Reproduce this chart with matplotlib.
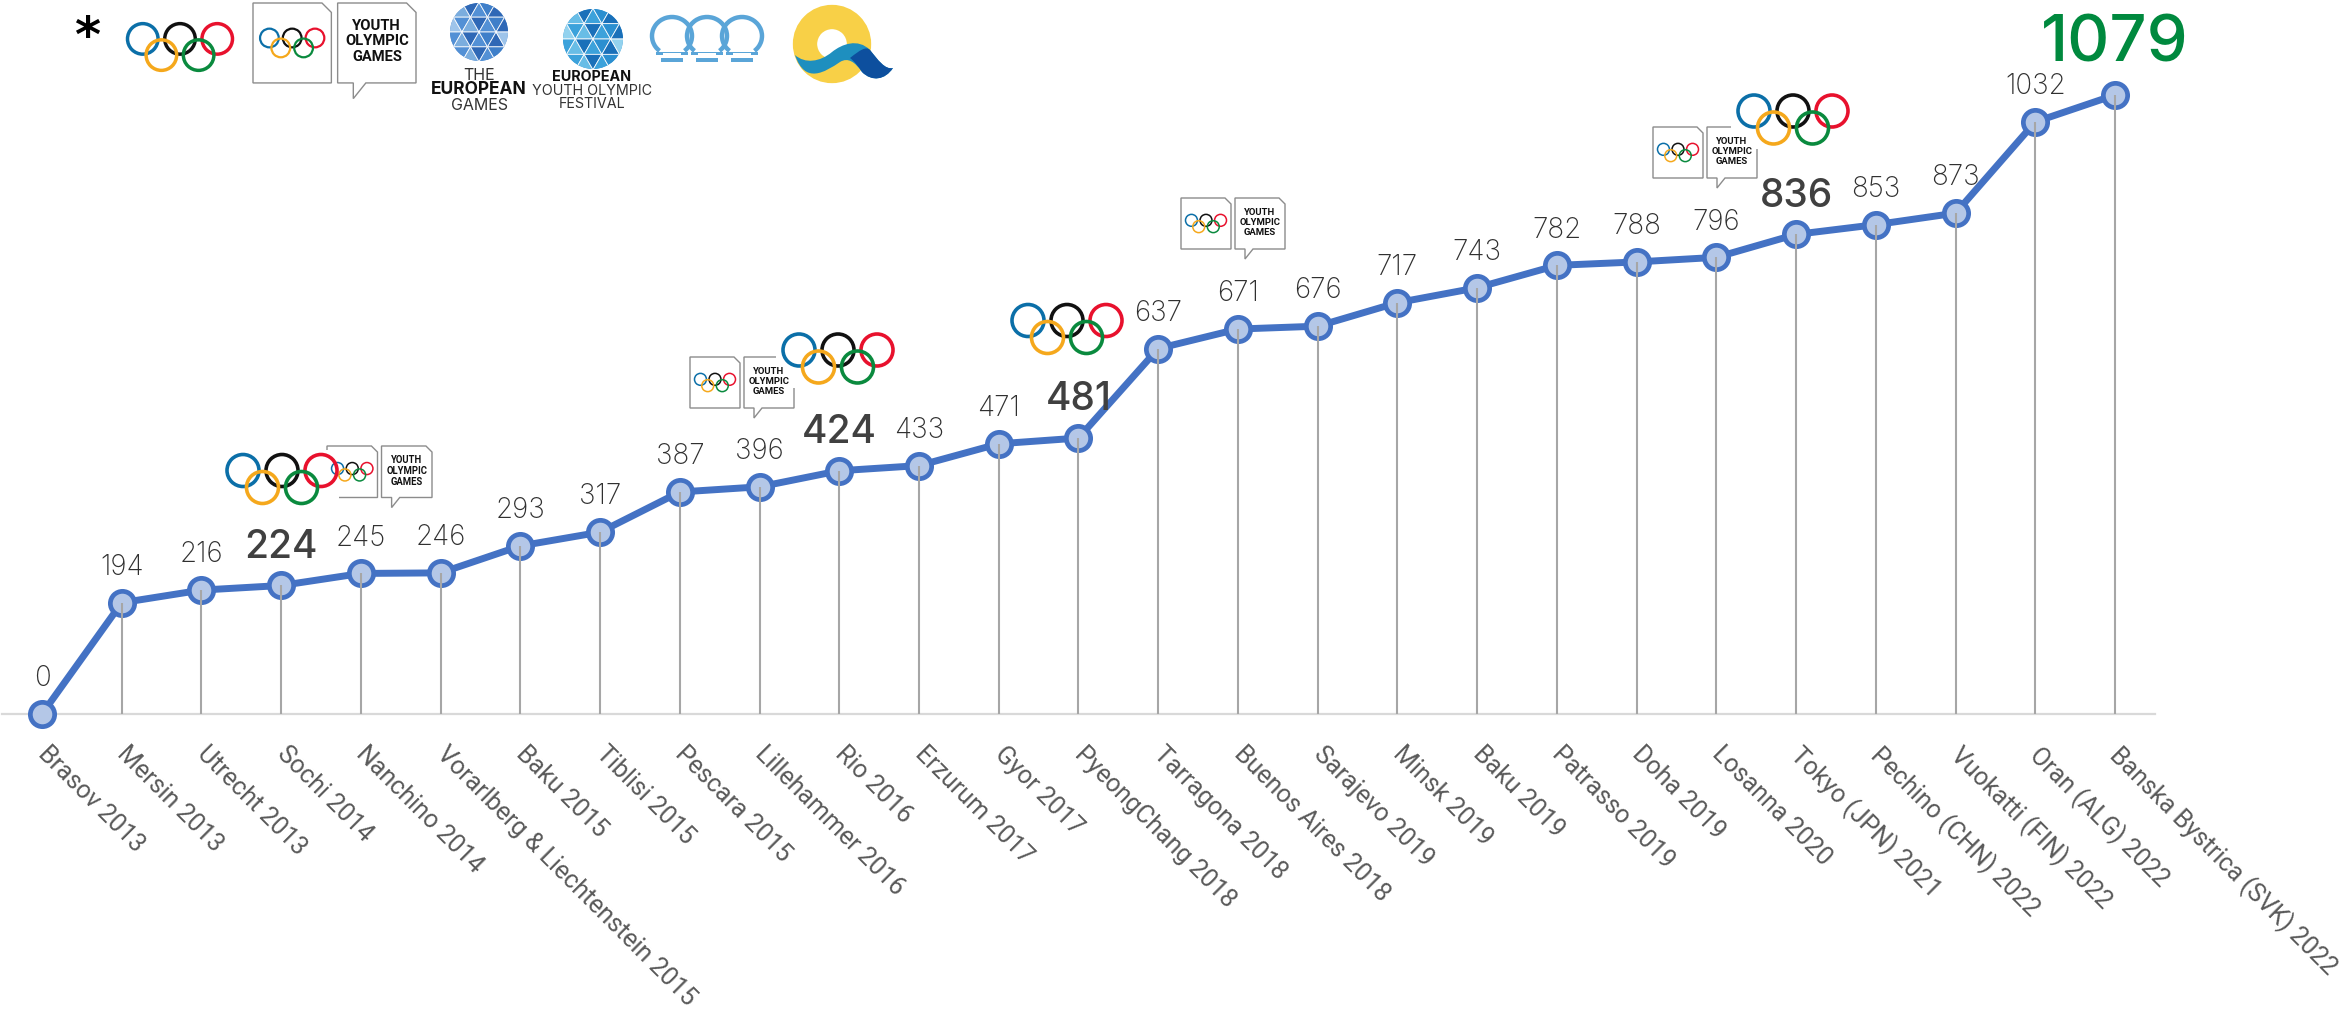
import matplotlib
matplotlib.use('Agg')
import numpy as np
import matplotlib.pyplot as plt
from matplotlib.patches import Circle, Polygon, Rectangle, Arc, PathPatch
from matplotlib.path import Path
from matplotlib.transforms import ScaledTranslation

W, H = 2346, 1011

games = ['Brasov 2013', 'Mersin 2013', 'Utrecht 2013', 'Sochi 2014', 'Nanchino 2014',
         'Vorarlberg & Liechtenstein 2015', 'Baku 2015', 'Tiblisi 2015', 'Pescara 2015',
         'Lillehammer 2016', 'Rio 2016', 'Erzurum 2017', 'Gyor 2017', 'PyeongChang 2018',
         'Tarragona 2018', 'Buenos Aires 2018', 'Sarajevo 2019', 'Minsk 2019', 'Baku 2019',
         'Patrasso 2019', 'Doha 2019', 'Losanna 2020', 'Tokyo (JPN) 2021', 'Pechino (CHN) 2022',
         'Vuokatti (FIN) 2022', 'Oran (ALG) 2022', 'Banska Bystrica (SVK) 2022']
totals = [0, 194, 216, 224, 245, 246, 293, 317, 387, 396, 424, 433, 471, 481, 637, 671,
          676, 717, 743, 782, 788, 796, 836, 853, 873, 1032, 1079]
olympic_totals = [224, 424, 481, 836]

# scale of the plot in the picture
x0, dx = 42, 79.73
y0, dy = 714, 0.5737

fig = plt.figure(figsize=(W / 100, H / 100), dpi=100, facecolor='white')
ax = fig.add_axes([0, 0, 1, 1])
ax.set_xlim(-x0 / dx, (W - x0) / dx)
ax.set_ylim(-(H - y0) / dy, y0 / dy)
ax.patch.set_alpha(0)

xs = np.arange(len(totals))
ax.plot(xs, totals, color='#4472c4', lw=5, marker='o', ms=17.5, mfc='#b4c7e7',
        mec='#4472c4', mew=3.4, zorder=3)
ax.vlines(xs, 0, totals, color='#a6a6a6', lw=1.5, zorder=4)

for x, v in zip(xs, totals):
    if v == 1079:
        size, col, off, weight = 47, '#00893e', 24, 'medium'
    elif v in olympic_totals:
        size, col, off, weight = 28, '#404040', 20, 'medium'
    else:
        size, col, off, weight = 20, '#303030', 20, 'light'
    ax.annotate(str(v), (x, v), xytext=(0, off), textcoords='offset points', ha='center',
                va='baseline', fontsize=size, color=col, family='Inter', fontweight=weight)

for s in ['top', 'left', 'right']:
    ax.spines[s].set_visible(False)
ax.spines['bottom'].set_position(('data', 0))
ax.spines['bottom'].set_bounds(-0.5, len(totals) - 0.5)
ax.spines['bottom'].set_color('#d9d9d9')
ax.spines['bottom'].set_linewidth(1.6)
ax.set_yticks([])
ax.set_xticks(xs)
ax.set_xticklabels(games, rotation=-45, ha='left', va='top', rotation_mode='anchor',
                   fontsize=18, color='#595959', family='Roboto')
ax.tick_params(axis='x', length=0, pad=20)
shift = ScaledTranslation(8 / 100, 0, fig.dpi_scale_trans)
for lab in ax.get_xticklabels():
    lab.set_transform(lab.get_transform() + shift)

# logos, in picture pixels
lg = fig.add_axes([0, 0, 1, 1], zorder=5)
lg.set_xlim(0, W)
lg.set_ylim(H, 0)
lg.axis('off')


def rings(cx, cy, w, bg=True, pad=7, z=6):
    k = w / 110
    if bg:
        lg.add_patch(Rectangle((cx - w / 2 - pad, cy - 29 * k), w + 2 * pad, 58 * k, fc='white', ec='none', zorder=z))
    spots = [(-39, -8.5, '#0b6fa8'), (0, -8.5, '#111111'), (39, -8.5, '#e8112d'),
             (-19.5, 8.5, '#f5a81c'), (19.5, 8.5, '#0a8a3e')]
    for sx, sy, c in spots:
        lg.add_patch(Circle((cx + sx * k, cy + sy * k), 16 * k, fill=False, ec=c,
                            lw=2.4 * k + 0.2, zorder=z + 1))


def youth(left, top, w, z=5.5):
    k = w / 104
    h = 51 * k
    pw = 50 * k
    cut = 6 * k
    lg.add_patch(Polygon([(left, top), (left + pw - cut, top), (left + pw, top + cut),
                          (left + pw, top + h), (left, top + h)], closed=True, fc='white',
                         ec='#8c8c8c', lw=1, zorder=z))
    rx = left + 54 * k
    lg.add_patch(Polygon([(rx, top), (rx + pw - cut, top), (rx + pw, top + cut), (rx + pw, top + h),
                          (rx + 18 * k, top + h), (rx + 10 * k, top + h + 10 * k), (rx + 10 * k, top + h),
                          (rx, top + h)], closed=True, fc='white', ec='#8c8c8c', lw=1, zorder=z))
    rings(left + pw / 2, top + h / 2, 41 * k, bg=False, z=z)
    lg.text(rx + pw / 2, top + h / 2 - 1 * k, 'YOUTH\nOLYMPIC\nGAMES', ha='center', va='center',
            fontsize=6.8 * k, family='Roboto', fontweight='bold', color='#111111',
            linespacing=1.15, zorder=z + 1)


def disc(cx, cy, r, shades):
    c = Circle((cx, cy), r, fc=shades[0], ec='none', zorder=6)
    lg.add_patch(c)
    st = r / 1.7
    for i in range(-4, 5):
        for j in range(-4, 5):
            px = cx + i * st + (j % 2) * st / 2
            py = cy + j * st * 0.87
            for n, tri in enumerate([[(px, py), (px + st, py), (px + st / 2, py + st * 0.87)],
                                     [(px + st, py), (px + st / 2, py + st * 0.87), (px + 1.5 * st, py + st * 0.87)]]):
                t = Polygon(tri, closed=True, fc=shades[(i * 3 + j * 5 + n * 2) % len(shades)],
                            ec='white', lw=0.6, alpha=0.95, zorder=6.1)
                lg.add_patch(t)
                t.set_clip_path(c)


lg.text(87, 38, '*', ha='center', va='center', fontsize=36, fontweight='bold', family='DejaVu Sans',
        color='black', zorder=8)

# legend row
rings(180, 47, 105)
youth(253, 3, 163)
disc(479, 32, 29, ['#3f7fc9', '#7fb0e0', '#2f67b5', '#a4c8ec', '#5592d6'])
lg.text(479, 75, 'THE', ha='center', va='center', fontsize=11.5, family='Inter', color='#333333')
lg.text(479, 89, 'EUROPEAN', ha='center', va='center', fontsize=12.5, family='Inter', fontweight='bold', color='#111111')
lg.text(479, 105, 'GAMES', ha='center', va='center', fontsize=11.5, family='Inter', color='#333333')
disc(593, 39, 30, ['#2b8fd0', '#6cc0e8', '#1a6fb8', '#9ad6f0', '#3ea4dc'])
lg.text(592, 77, 'EUROPEAN', ha='center', va='center', fontsize=10.3, family='Inter', fontweight='bold', color='#111111')
lg.text(592, 91, 'YOUTH OLYMPIC', ha='center', va='center', fontsize=10.3, family='Inter', color='#333333')
lg.text(592, 104, 'FESTIVAL', ha='center', va='center', fontsize=10.3, family='Inter', color='#333333')

for ax_x in [672, 707, 742]:
    lg.add_patch(Arc((ax_x, 36), 40, 38, theta1=130, theta2=50, color='#5aa5d8', lw=3.2, zorder=6))
    lg.add_patch(Rectangle((ax_x - 11, 58), 22, 4, fc='#5aa5d8', ec='none', zorder=6))
    lg.add_patch(Rectangle((ax_x - 16, 52), 32, 3, fc='#5aa5d8', ec='none', zorder=6))
    lg.add_patch(Rectangle((ax_x - 9, 53), 18, 5, fc='white', ec='none', zorder=6.1))

lg.add_patch(Circle((832, 44), 27, fill=False, ec='#f8d047', lw=17.5, zorder=6))
wave = Path([(795, 55), (805, 64), (820, 62), (832, 52), (842, 44), (858, 38), (870, 50),
             (878, 60), (885, 70), (893, 68), (885, 80), (872, 82), (862, 72),
             (855, 62), (848, 57), (840, 62), (825, 72), (805, 85), (795, 55)],
            [Path.MOVETO] + [Path.CURVE4] * 18)
lg.add_patch(PathPatch(wave, fc='#1e8fbf', ec='none', zorder=7))
wave2 = Path([(850, 58), (860, 50), (866, 46), (870, 50), (878, 60), (885, 70), (893, 68),
              (885, 80), (872, 82), (862, 72), (858, 66), (854, 61), (850, 58)],
             [Path.MOVETO] + [Path.CURVE4] * 12)
lg.add_patch(PathPatch(wave2, fc='#0d4f9e', ec='none', zorder=7.1))

# logos along the line
youth(327, 446, 105)
rings(282, 479, 110, pad=2)
youth(690, 357, 104)
rings(838, 358.5, 110)
rings(1067, 329, 110)
youth(1181, 198, 104)
youth(1653, 127, 104)
rings(1793, 119.5, 110)

fig.savefig('out.png', dpi=100)
